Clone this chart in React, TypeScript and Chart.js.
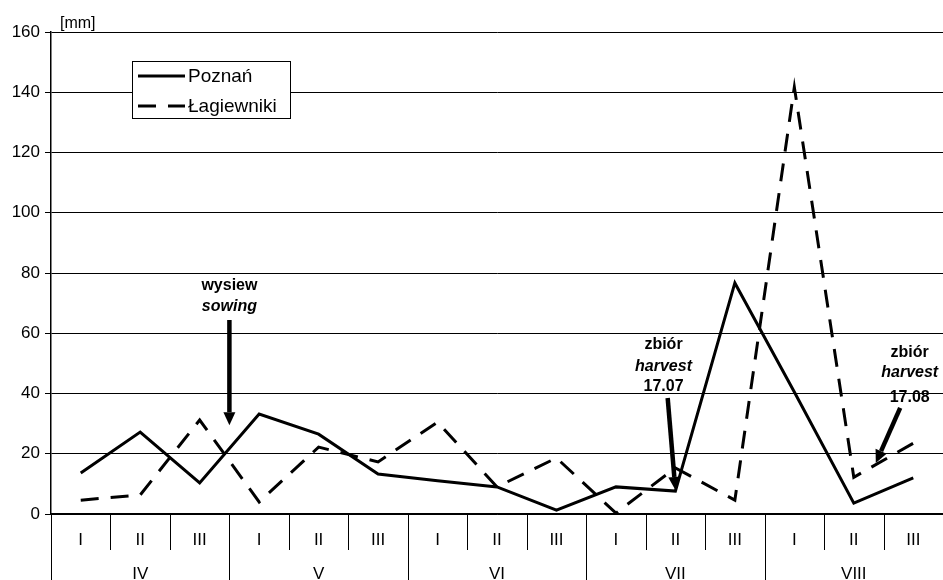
import React, { useEffect, useRef } from 'react';
import { Chart, registerables } from 'chart.js';

Chart.register(...registerables);

const dekads = ['I', 'II', 'III', 'I', 'II', 'III', 'I', 'II', 'III', 'I', 'II', 'III', 'I', 'II', 'III'];
const months = ['IV', 'V', 'VI', 'VII', 'VIII'];
const poznan = [13.6, 27.2, 10.3, 33.2, 26.5, 13.3, 11.0, 9.0, 1.3, 9.0, 7.6, 76.7, 40.5, 3.6, 12.0];
const lagiewniki = [4.6, 6.3, 31.2, 4.0, 22.2, 17.3, 30.5, 9.0, 18.6, 0.3, 15.3, 4.6, 141.7, 12.2, 23.5];
const seriesNames = ['Poznań', 'Łagiewniki'];
const yMin = 0;
const yMax = 160;
const yStep = 20;
const unitLabel = '[mm]';

// annotation texts with anchor positions in data coordinates (category index, value)
const annotations = [
  {
    lines: [
      { text: 'wysiew', italic: false },
      { text: 'sowing', italic: true },
    ],
    textX: 2.5,
    textY: [75.7, 68.7],
    from: [2.5, 64.4],
    to: [2.5, 29.5],
  },
  {
    lines: [
      { text: 'zbiór', italic: false },
      { text: 'harvest', italic: true },
      { text: '17.07', italic: false },
    ],
    textX: 9.8,
    textY: [56.2, 48.9, 42.2],
    from: [9.87, 38.5],
    to: [10.0, 8.0],
  },
  {
    lines: [
      { text: 'zbiór', italic: false },
      { text: 'harvest', italic: true },
      { text: '17.08', italic: false },
    ],
    textX: 13.94,
    textY: [53.6, 46.9, 38.6],
    from: [13.78, 35.2],
    to: [13.37, 16.9],
  },
];

const FONT = '"Liberation Sans", Arial, Helvetica, sans-serif';

function drawArrow(ctx: CanvasRenderingContext2D, x1: number, y1: number, x2: number, y2: number, w: number, headLen: number, headW: number) {
  const ang = Math.atan2(y2 - y1, x2 - x1);
  const bx = x2 - headLen * Math.cos(ang);
  const by = y2 - headLen * Math.sin(ang);
  ctx.lineWidth = w;
  ctx.lineCap = 'butt';
  ctx.beginPath();
  ctx.moveTo(x1, y1);
  ctx.lineTo(bx, by);
  ctx.stroke();
  ctx.beginPath();
  ctx.moveTo(x2, y2);
  ctx.lineTo(bx + (headW / 2) * Math.sin(ang), by - (headW / 2) * Math.cos(ang));
  ctx.lineTo(bx - (headW / 2) * Math.sin(ang), by + (headW / 2) * Math.cos(ang));
  ctx.closePath();
  ctx.fill();
}

const decorPlugin = {
  id: 'decor',
  afterDraw(chart: any) {
    const { ctx, chartArea } = chart;
    const x = chart.scales.x;
    const y = chart.scales.y;
    ctx.save();
    ctx.strokeStyle = '#000';
    ctx.fillStyle = '#000';

    // category table lines
    ctx.lineWidth = 1;
    const n = dekads.length;
    for (let i = 0; i < n; i++) {
      const px = Math.round(x.getPixelForValue(i - 0.5)) + 0.5;
      const isMonth = i % 3 === 0;
      ctx.beginPath();
      ctx.moveTo(px, chartArea.bottom);
      ctx.lineTo(px, isMonth ? chart.height : chartArea.bottom + 36);
      ctx.stroke();
    }

    // month labels
    ctx.font = `17px ${FONT}`;
    ctx.textAlign = 'center';
    ctx.textBaseline = 'middle';
    months.forEach((m, k) => {
      ctx.fillText(m, x.getPixelForValue(k * 3 + 1), chartArea.bottom + 60);
    });

    // unit label
    ctx.font = `16px ${FONT}`;
    ctx.textAlign = 'left';
    ctx.fillText(unitLabel, chartArea.left + 9, chartArea.top - 8);

    // annotations
    annotations.forEach((a) => {
      ctx.textAlign = 'center';
      ctx.textBaseline = 'middle';
      a.lines.forEach((ln, k) => {
        ctx.font = `${ln.italic ? 'italic ' : ''}bold 16px ${FONT}`;
        ctx.fillText(ln.text, x.getPixelForValue(a.textX), y.getPixelForValue(a.textY[k]));
      });
      drawArrow(
        ctx,
        x.getPixelForValue(a.from[0]),
        y.getPixelForValue(a.from[1]),
        x.getPixelForValue(a.to[0]),
        y.getPixelForValue(a.to[1]),
        4.5,
        13,
        12
      );
    });

    // legend
    const lx = chartArea.left + 81;
    const ly = chartArea.top + 29;
    const lw = 158;
    const lh = 57;
    ctx.fillStyle = '#fff';
    ctx.fillRect(lx, ly, lw, lh);
    ctx.strokeStyle = '#000';
    ctx.lineWidth = 1;
    ctx.strokeRect(lx + 0.5, ly + 0.5, lw, lh);
    chart.data.datasets.forEach((ds: any, k: number) => {
      const rowY = ly + 15 + k * 30;
      ctx.strokeStyle = '#000';
      ctx.lineWidth = 3;
      ctx.setLineDash(ds.borderDash || []);
      ctx.beginPath();
      ctx.moveTo(lx + 6, rowY);
      ctx.lineTo(lx + 53, rowY);
      ctx.stroke();
      ctx.setLineDash([]);
      ctx.fillStyle = '#000';
      ctx.font = `19px ${FONT}`;
      ctx.textAlign = 'left';
      ctx.textBaseline = 'middle';
      ctx.fillText(ds.label, lx + 56, rowY + 1);
    });

    ctx.restore();
  },
};

export default function App() {
  const ref = useRef<HTMLCanvasElement | null>(null);

  useEffect(() => {
    if (!ref.current) return;
    const chart = new Chart(ref.current, {
      type: 'line',
      data: {
        labels: dekads,
        datasets: [
          {
            label: seriesNames[0],
            data: poznan,
            borderColor: '#000',
            backgroundColor: '#000',
            borderWidth: 3,
            pointRadius: 0,
            tension: 0,
            fill: false,
          },
          {
            label: seriesNames[1],
            data: lagiewniki,
            borderColor: '#000',
            backgroundColor: '#000',
            borderWidth: 3,
            borderDash: [18, 12],
            pointRadius: 0,
            tension: 0,
            fill: false,
          },
        ],
      },
      options: {
        animation: false,
        responsive: false,
        maintainAspectRatio: false,
        layout: { padding: { top: 32, right: 0, left: 0, bottom: 0 } },
        plugins: {
          legend: { display: false },
          tooltip: { enabled: false },
          title: { display: false },
        },
        scales: {
          x: {
            type: 'category',
            offset: true,
            grid: { display: false },
            border: { display: true, color: '#000', width: 1.5 },
            ticks: {
              color: '#000',
              font: { family: FONT, size: 17 },
              padding: 8,
              maxRotation: 0,
              autoSkip: false,
            },
            afterFit: (s: any) => {
              s.height = 66;
            },
          },
          y: {
            min: yMin,
            max: yMax,
            border: { display: true, color: '#000', width: 1.5 },
            grid: {
              color: '#000',
              lineWidth: 1,
              drawTicks: true,
              tickLength: 6,
            },
            ticks: {
              stepSize: yStep,
              color: '#000',
              font: { family: FONT, size: 17 },
              padding: 5,
            },
            afterFit: (s: any) => {
              s.width = 51;
            },
          },
        },
      },
      plugins: [decorPlugin],
    });
    return () => chart.destroy();
  }, []);

  return (
    <div style={{ position: 'absolute', left: 0, top: 0, width: 943, height: 580, background: '#fff' }}>
      <canvas ref={ref} width={943} height={580} />
    </div>
  );
}
